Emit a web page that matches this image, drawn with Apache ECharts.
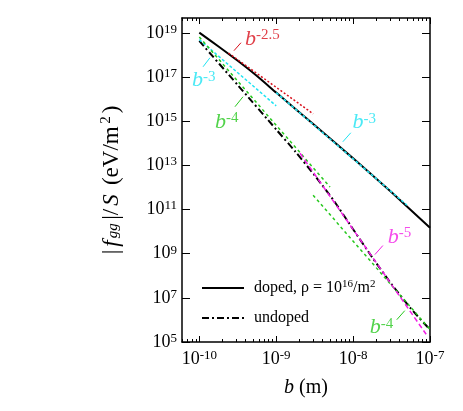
<!DOCTYPE html>
<html>
<head>
<meta charset="utf-8">
<script src="https://cdn.jsdelivr.net/npm/echarts@6/dist/echarts.min.js"></script>
<style>
  html, body { margin: 0; padding: 0; background: #fff; }
  #chart { width: 463px; height: 411px; }
</style>
</head>
<body>
<div id="chart"></div>
<script>
// all values are log10: b in m, |f_gg|/S in eV/m^2
const dopedB = [-10, -9.75, -9.5, -9.25, -9, -8.5, -8, -7.5, -7];
const dopedF = [19.02, 18.39, 17.74, 17.05, 16.30, 14.82, 13.32, 11.78, 10.18];

const undopedB = [-10, -9.5, -9, -8.75, -8.5, -8.25, -8, -7.75, -7.5, -7.25, -7];
const undopedF = [18.64, 16.64, 14.63, 13.62, 12.55, 11.40, 10.11, 8.83, 7.62, 6.52, 5.56];

// power-law guides, two end points each
const red25B = [-9.62, -8.52];   const red25F = [18.09, 15.34];
const cyan3aB = [-10, -9];       const cyan3aF = [18.70, 15.70];
const cyan3bB = [-9, -7.30];     const cyan3bF = [16.30, 11.20];
const green4aB = [-10, -8.30];   const green4aF = [18.82, 12.02];
const green4bB = [-8.52, -7.0];  const green4bF = [11.65, 5.57];
const mag5B = [-8.69, -7.05];    const mag5F = [13.55, 5.35];

// slope labels and their little leader lines
const noteExp = ['-2.5', '-3', '-4', '-3', '-5', '-4'];
const noteB = [-9.406, -10.095, -9.796, -8.008, -7.549, -7.783];
const noteF = [18.74, 16.84, 14.98, 14.94, 9.77, 5.65];
const leadB0 = [-9.549, -9.951, -9.536, -8.134, -7.717, -7.432];
const leadF0 = [18.20, 17.47, 15.66, 14.07, 8.96, 6.01];
const leadB1 = [-9.458, -9.861, -9.432, -8.030, -7.613, -7.328];
const leadF1 = [18.56, 17.88, 16.11, 14.48, 9.37, 6.42];

const xTicks = [-10, -9, -8, -7];
const yTicks = [5, 7, 9, 11, 13, 15, 17, 19];

const RED = '#d8101c', CYAN = '#1ee3f2', GREEN = '#27c81e', MAG = '#f21ee6';
const noteColor = [RED, CYAN, GREEN, CYAN, MAG, GREEN];
const FONT = 'Liberation Serif';

const xMin = -10.225, xMax = -7, yMin = 5, yMax = 19.68;

const xMinor = [];
for (let n = -11; n <= -8; n++) {
  for (let k = 2; k <= 9; k++) {
    const v = n + Math.log10(k);
    if (v > xMin && v < xMax) xMinor.push(v);
  }
}

function pts(xs, ys) {
  return xs.map((x, i) => [x, ys[i]]);
}

const powRich = {
  n: { fontFamily: FONT, fontSize: 18, color: '#000' },
  e: { fontFamily: FONT, fontSize: 13, color: '#000', padding: [0, 0, 7, 0] }
};

function xAxisOf(pos, ticks, len, line, label) {
  return {
    type: 'value', position: pos, min: xMin, max: xMax,
    axisLine: { show: line, onZero: false, lineStyle: { color: '#000', width: 1.5 } },
    axisTick: { show: true, inside: true, length: len, customValues: ticks,
      lineStyle: { color: '#000', width: 1 } },
    axisLabel: label ? {
      show: true, customValues: xTicks, margin: 7,
      formatter: v => '{n|10}{e|' + Math.round(v) + '}',
      rich: powRich
    } : { show: false },
    splitLine: { show: false }
  };
}

function yAxisOf(pos, label) {
  const ax = {
    type: 'value', position: pos, min: yMin, max: yMax,
    axisLine: { show: true, onZero: false, lineStyle: { color: '#000', width: 1.5 } },
    axisTick: { show: true, inside: true, length: 8, customValues: yTicks,
      lineStyle: { color: '#000', width: 1 } },
    axisLabel: label ? {
      show: true, customValues: yTicks, margin: 5,
      formatter: v => '{n|10}{e|' + Math.round(v) + '}',
      rich: powRich
    } : { show: false },
    splitLine: { show: false }
  };
  if (label) {
    ax.name = '{t||}{i|f}{sub|gg}{t||/}{i|S}{t| (eV/m}{sup|2}{t|)}';
    ax.nameLocation = 'middle';
    ax.nameRotate = 90;
    ax.nameGap = 54;
    ax.nameTextStyle = {
      rich: {
        t: { fontFamily: FONT, fontSize: 23, color: '#000', padding: [0, 1.5, 4, 1.5] },
        i: { fontFamily: FONT, fontSize: 23, fontStyle: 'italic', color: '#000', padding: [0, 2, 4, 1.5] },
        sub: { fontFamily: FONT, fontSize: 15, fontStyle: 'italic', color: '#000', padding: [0, 2, 0, 0] },
        sup: { fontFamily: FONT, fontSize: 15, color: '#000', padding: [0, 1.5, 14, 1] }
      }
    };
  }
  return ax;
}

function guide(xs, ys, color, dash) {
  return {
    type: 'line', data: pts(xs, ys), symbol: 'none', silent: true, z: 3,
    lineStyle: { color: color, width: 1.5, type: dash }
  };
}

const series = [
  {
    name: 'doped', type: 'line', data: pts(dopedB, dopedF), symbol: 'none', smooth: 0.2, z: 2,
    lineStyle: { color: '#000', width: 2, type: 'solid' }
  },
  {
    name: 'undoped', type: 'line', data: pts(undopedB, undopedF), symbol: 'none', smooth: 0.2, z: 2,
    lineStyle: { color: '#000', width: 2, type: [7, 3, 2, 3] }
  },
  guide(red25B, red25F, RED, [2, 2]),
  guide(cyan3aB, cyan3aF, CYAN, [3, 2]),
  guide(cyan3bB, cyan3bF, CYAN, [3, 2]),
  guide(green4aB, green4aF, GREEN, [3, 3]),
  guide(green4bB, green4bF, GREEN, [3, 3]),
  guide(mag5B, mag5F, MAG, [5, 3])
];

noteExp.forEach((_, i) => {
  series.push({
    type: 'line', data: [[leadB0[i], leadF0[i]], [leadB1[i], leadF1[i]]],
    symbol: 'none', silent: true, z: 3,
    lineStyle: { color: noteColor[i], width: 1 }
  });
});

series.push({
  type: 'scatter', symbolSize: 0, silent: true, z: 4,
  data: noteExp.map((ex, i) => ({
    value: [noteB[i], noteF[i]],
    label: { color: noteColor[i], formatter: '{b|b}{s|' + ex + '}' }
  })),
  label: {
    show: true, position: 'inside', align: 'left', verticalAlign: 'middle',
    rich: {
      b: { fontFamily: FONT, fontSize: 22, fontStyle: 'italic' },
      s: { fontFamily: FONT, fontSize: 15, padding: [0, 0, 8, 0] }
    }
  }
});

const chart = echarts.init(document.getElementById('chart'));
chart.setOption({
  animation: false,
  backgroundColor: '#fff',
  grid: { left: 182, right: 33, top: 18, bottom: 69, containLabel: false },
  xAxis: [
    Object.assign(xAxisOf('bottom', xTicks, 6, true, true), {
      name: '{i|b} (m)', nameLocation: 'middle', nameGap: 36,
      nameTextStyle: {
        fontFamily: FONT, fontSize: 20, color: '#000',
        rich: { i: { fontFamily: FONT, fontSize: 20, fontStyle: 'italic', color: '#000' } }
      }
    }),
    xAxisOf('bottom', xMinor, 3, false, false),
    xAxisOf('top', xTicks, 6, true, false),
    xAxisOf('top', xMinor, 3, false, false)
  ],
  yAxis: [yAxisOf('left', true), yAxisOf('right', false)],
  legend: {
    orient: 'vertical', left: 196, top: 274, itemWidth: 42, itemHeight: 14, itemGap: 14,
    data: ['doped', 'undoped'],
    itemStyle: { opacity: 0 },
    formatter: name => name === 'doped' ? 'doped, ρ = 10{s|16}/m{s|2}' : 'undoped',
    textStyle: {
      fontFamily: FONT, fontSize: 16, color: '#000', padding: [0, 0, 0, 5],
      rich: { s: { fontFamily: FONT, fontSize: 11, color: '#000', padding: [0, 0, 7, 0] } }
    }
  },
  series: series
});
</script>
</body>
</html>
